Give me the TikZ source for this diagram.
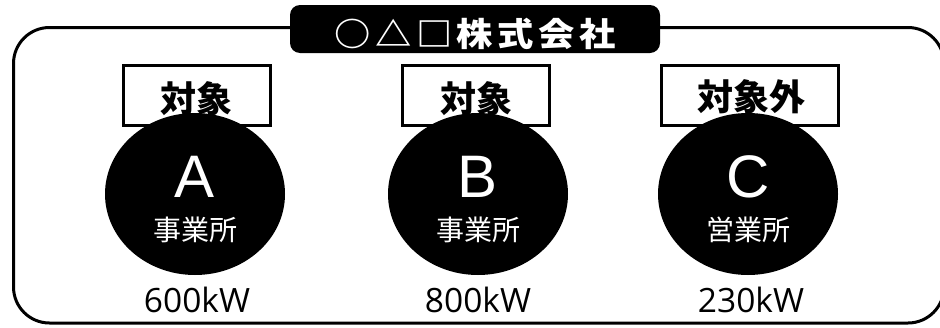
\documentclass[tikz,border=0pt]{standalone}
\usepackage{fontspec}
\setmainfont{Liberation Sans}
\newfontfamily\jp{Noto Sans CJK JP}
\newfontfamily\jpt{Noto Sans CJK JP}[FakeStretch=1.1]
\newfontfamily\latf{Liberation Sans}
\newfontfamily\numf{Open Sans}
\usetikzlibrary{shapes.geometric}
\newcommand{\tsp}{\hspace{4.5pt}}
\begin{document}
\begin{tikzpicture}[x=1pt,y=-1pt]
\tikzset{
  frame/.style={draw=black, line width=3pt, rounded corners=36pt},
  titlebox/.style={fill=black, rounded corners=10pt, minimum width=370pt, minimum height=48pt, inner sep=0pt},
  titletext/.style={text=white, font=\jpt\bfseries\fontsize{33}{33}\selectfont, inner sep=0pt},
  tag/.style={draw=black, line width=3pt, fill=white, minimum height=60pt, inner sep=0pt},
  tagtext/.style={font=\jp\bfseries\fontsize{36}{36}\selectfont, inner sep=0pt},
  site/.style={ellipse, fill=black, minimum width=180pt, minimum height=162pt, inner sep=0pt},
  letter/.style={text=white, font=\latf\fontsize{60}{60}\selectfont, inner sep=0pt},
  kind/.style={text=white, font=\jp\fontsize{28}{28}\selectfont, inner sep=0pt},
  power/.style={text=black, font=\numf\fontsize{33.5}{33.5}\selectfont, inner sep=0pt}
}
\useasboundingbox (0,0) rectangle (940,327);
\fill[white] (0,0) rectangle (940,327);
\draw[frame] (13.5,27.5) coordinate (fa) rectangle (944,323) coordinate (fb);
\node[titlebox] (tb) at (475,29) {};
\node[titletext] (tt) at (475,33.5) {○\tsp{}△\tsp{}□\tsp{}株\tsp{}式\tsp{}会\tsp{}社};
% tags
\node[tag, minimum width=147pt] (tagA) at (197,95.5) {};
\node[tag, minimum width=147pt] (tagB) at (476,95.5) {};
\node[tag, minimum width=177pt] (tagC) at (750,95.5) {};
\node[tagtext] (tA) at (196,98.5) {対象};
\node[tagtext] (tB) at (476,98.5) {対象};
\node[tagtext] (tC) at (751,96.5) {対象外};
% sites
\node[site] (sA) at (195,194) {};
\node[site] (sB) at (478,194) {};
\node[site] (sC) at (748,194) {};
\node[letter] (lA) at (195,176.5) {A};
\node[letter] (lB) at (478,176.5) {B};
\node[letter] (lC) at (748,176.5) {C};
\node[kind] (kA) at (195,230) {事業所};
\node[kind] (kB) at (478,230) {事業所};
\node[kind] (kC) at (748,230) {営業所};
\node[power] (pA) at (197,300) {600kW};
\node[power] (pB) at (478,300) {800kW};
\node[power] (pC) at (751,300) {230kW};
\end{tikzpicture}
\end{document}
